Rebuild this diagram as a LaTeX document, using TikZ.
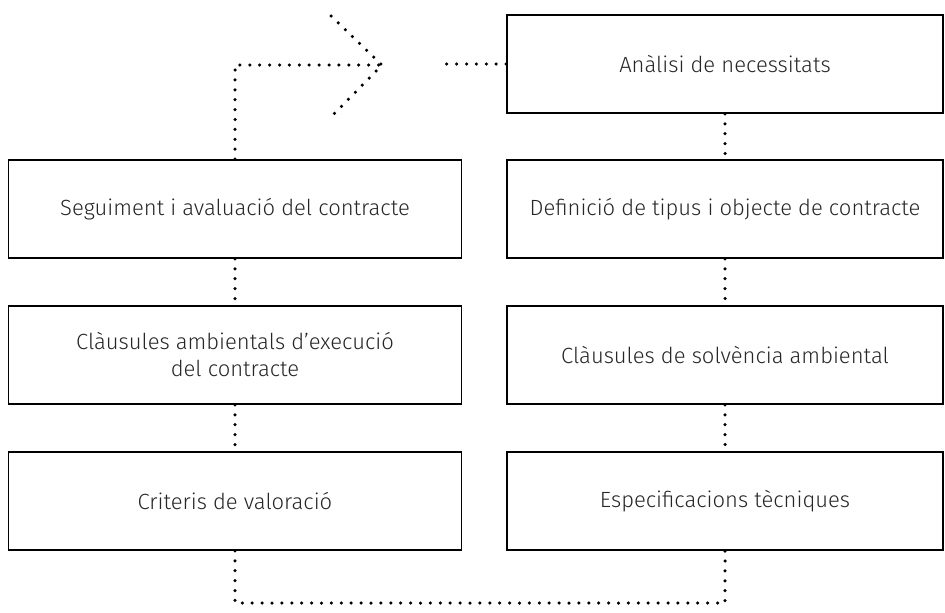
\documentclass[tikz,border=0pt]{standalone}
\usepackage{fontspec}
\setmainfont{Fira Sans}[UprightFont=* Light]
\begin{document}
\begin{tikzpicture}[x=1pt,y=-1pt,
  box/.style={draw=black, line width=1.8pt, rectangle, inner sep=0pt, align=center,
    font=\fontsize{22}{27}\selectfont, text=black!85},
  lbox/.style={box, minimum width=453pt, minimum height=98pt},
  rbox/.style={box, minimum width=436pt, minimum height=98pt},
  dots/.style={line width=3.5pt, line cap=round, dash pattern=on 0pt off 9.9pt}]
\useasboundingbox (0,0) rectangle (945,613);
\node[rbox] (ana) at (725,64) {Anàlisi de necessitats};
\node[rbox] (def) at (725,209) {Definició de tipus i objecte de contracte};
\node[rbox] (sol) at (725,355) {Clàusules de solvència ambiental};
\node[rbox] (esp) at (725,501) {Especificacions tècniques};
\node[lbox] (seg) at (235,209) {Seguiment i avaluació del contracte};
\node[lbox] (cla) at (235,355) {Clàusules ambientals d’execució\\del contracte};
\node[lbox] (cri) at (235,501) {Criteris de valoració};
\coordinate (tip) at (382,65);
\coordinate (au) at (331,16);
\coordinate (ad) at (331,117);
\coordinate (gap) at (438,64);
\coordinate (bl) at (237,603);
\draw[dots] (ana.west) -- (gap);
\draw[dots] (ana.south) -- (def.north);
\draw[dots] (def.south) -- (sol.north);
\draw[dots] (sol.south) -- (esp.north);
\draw[dots] (seg.north) |- (tip);
\draw[dots] (au) -- (tip) -- (ad);
\draw[dots] (seg.south) -- (cla.north);
\draw[dots] (cla.south) -- (cri.north);
\draw[dots] (cri.south) |- (bl) -| (esp.south);
\end{tikzpicture}
\end{document}
